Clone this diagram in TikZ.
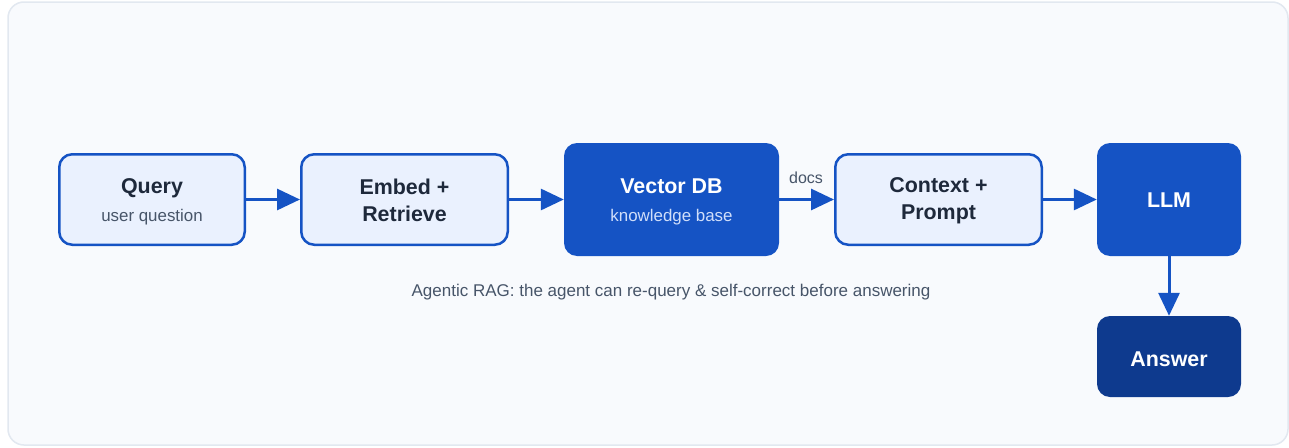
\documentclass[tikz,border=0pt]{standalone}
\usepackage{fontspec}
\setmainfont{Liberation Sans}
\usetikzlibrary{arrows.meta}
\definecolor{frameBg}{HTML}{F8FAFD}
\definecolor{frameLine}{HTML}{E2E8F0}
\definecolor{boxBlue}{HTML}{1553C4}
\definecolor{lightFill}{HTML}{EAF1FE}
\definecolor{deepBlue}{HTML}{0E3A8E}
\definecolor{ink}{HTML}{1E293B}
\definecolor{muted}{HTML}{475569}
\definecolor{paleText}{HTML}{D0DEFA}
\tikzset{
  lightbox/.style={draw=boxBlue, fill=lightFill, line width=2.5pt, rounded corners=13pt, inner sep=0pt, minimum height=90.5pt},
  darkbox/.style={fill=boxBlue, rounded corners=13pt, inner sep=0pt},
  answerbox/.style={fill=deepBlue, rounded corners=13pt, inner sep=0pt},
  ttl/.style={font=\fontsize{21.4}{27}\selectfont\bfseries, text=ink, align=center, inner sep=0pt},
  wttl/.style={ttl, text=white},
  sub/.style={font=\fontsize{16.9}{20}\selectfont, text=muted, inner sep=0pt},
  flow/.style={draw=boxBlue, line width=3pt, -{Triangle[length=23pt,width=21pt]}}
}
\begin{document}
\begin{tikzpicture}[x=1pt, y=-1pt]
  \fill[white] (0,0) rectangle (1289,447);
  \useasboundingbox (0,0) rectangle (1289,447);
  \draw[frameLine, fill=frameBg, line width=1.5pt, rounded corners=16pt] (8,2) rectangle (1288,445);

  \node[lightbox, minimum width=185.5pt] (q) at (152,199.5) {};
  \node[lightbox, minimum width=206.5pt] (e) at (404.5,199.5) {};
  \node[darkbox, minimum width=215pt, minimum height=113pt] (v) at (671.5,199.5) {};
  \node[lightbox, minimum width=206.5pt] (c) at (938.5,199.5) {};
  \node[darkbox, minimum width=144pt, minimum height=113pt] (l) at (1169,199.5) {};
  \node[answerbox, minimum width=144pt, minimum height=81pt] (a) at (1169,356.5) {};

  \node[ttl] (qt) at (152,188) {Query};
  \node[sub] (qs) at (152,217.5) {user question};
  \node[ttl] (et) at (404.5,200.5) {Embed +\\Retrieve};
  \node[wttl] (vt) at (671.5,186) {Vector DB};
  \node[sub, text=paleText] (vs) at (671.5,217.5) {knowledge base};
  \node[ttl] (ct) at (938.5,200.5) {Context +\\Prompt};
  \node[wttl] (lt) at (1169,200.5) {LLM};
  \node[wttl] (at) at (1169,359.5) {Answer};

  \draw[flow] (q.east) -- (e.west);
  \draw[flow] (e.east) -- (v.west);
  \draw[flow] (v.east) -- (c.west);
  \draw[flow] (c.east) -- (l.west);
  \draw[flow] (l.south) -- (a.north);

  \node[sub, font=\fontsize{16}{18}\selectfont] (docs) at (806,177.5) {docs};
  \node[sub, font=\fontsize{17}{20}\selectfont] (cap) at (671,292) {Agentic RAG: the agent can re-query \& self-correct before answering};
\end{tikzpicture}
\end{document}
